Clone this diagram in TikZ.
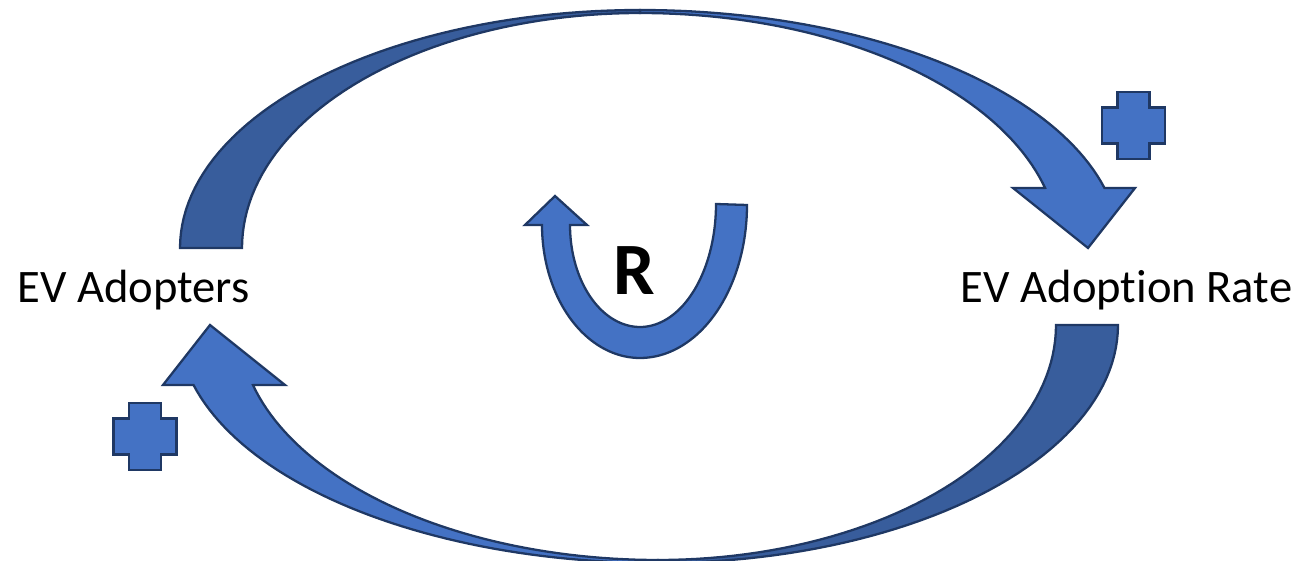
\documentclass[tikz,border=0pt]{standalone}
\usepackage{fontspec}
\setmainfont{Carlito}[Ligatures={NoCommon}]
\definecolor{lightb}{HTML}{4472C4}
\definecolor{darkb}{HTML}{385D9C}
\definecolor{edgeb}{HTML}{1F3864}
\tikzset{
  shapeedge/.style={draw=edgeb, line width=0.65pt, line join=miter},
  lightpart/.style={shapeedge, fill=lightb},
  darkpart/.style={shapeedge, fill=darkb},
  label/.style={inner sep=0pt, font=\fontsize{13.25pt}{16pt}\selectfont},
  loopmark/.style={inner sep=0pt, font=\fontsize{21pt}{24pt}\selectfont\bfseries},
  plussign/.pic={
    \path[lightpart] (-16,-33.5) -- (16,-33.5) -- (16,-18) -- (31.5,-18) -- (31.5,18)
      -- (16,18) -- (16,33.5) -- (-16,33.5) -- (-16,18) -- (-31.5,18) -- (-31.5,-18)
      -- (-16,-18) -- cycle;
  }
}
\newcommand{\bigcurvedarrow}{%
  % right (light) part with head
  \path[lightpart] (640,10)
    -- plot[domain=90:14.6, samples=50, variable=\t] ({640+480*cos(\t)},{248-238*sin(\t)})
    -- (1135,188) -- (1088,248) -- (1013,188) -- (1045,188)
    -- plot[domain=14.8:90, samples=50, variable=\t] ({640+419*cos(\t)},{248-235*sin(\t)})
    -- cycle;
  % left (dark) part with base
  \path[darkpart] (180,248)
    -- plot[domain=180:90, samples=50, variable=\t] ({640+460*cos(\t)},{248-238*sin(\t)})
    -- (640,13)
    -- plot[domain=90:180, samples=50, variable=\t] ({640+398*cos(\t)},{248-235*sin(\t)})
    -- cycle;
}
\begin{document}
\begin{tikzpicture}[x=0.01cm, y=-0.01cm]
  \useasboundingbox (0,0) rectangle (1306,561);
  % top arrow
  \bigcurvedarrow
  % bottom arrow (top arrow turned by 180 degrees)
  \begin{scope}[rotate around={180:(649,286.5)}]
    \bigcurvedarrow
  \end{scope}
  % loop arrow
  \path[lightpart] (555,196) -- (587,225) -- (570,225)
    -- plot[domain=180:270, samples=40, variable=\t] ({640+70*cos(\t)},{225-102*sin(\t)})
    -- plot[domain=270:360, samples=40, variable=\t] ({640+76*cos(\t)},{204-123*sin(\t)})
    -- (747,205)
    -- plot[domain=360:270, samples=40, variable=\t] ({640+107*cos(\t)},{205-153*sin(\t)})
    -- plot[domain=270:180, samples=40, variable=\t] ({640+98*cos(\t)},{225-133*sin(\t)})
    -- (525,225) -- cycle;
  % plus signs
  \pic at (1133.5,125.5) {plussign};
  \pic at (145,436.5) {plussign};
  % texts
  \node[label, anchor=base west] (adopters) at (17,303) {EV Adopters};
  \node[label, anchor=base east] (rate) at (1293,303) {EV Adoption Rate};
  \node[loopmark, anchor=base] (loop) at (634.5,295) {R};
\end{tikzpicture}
\end{document}
